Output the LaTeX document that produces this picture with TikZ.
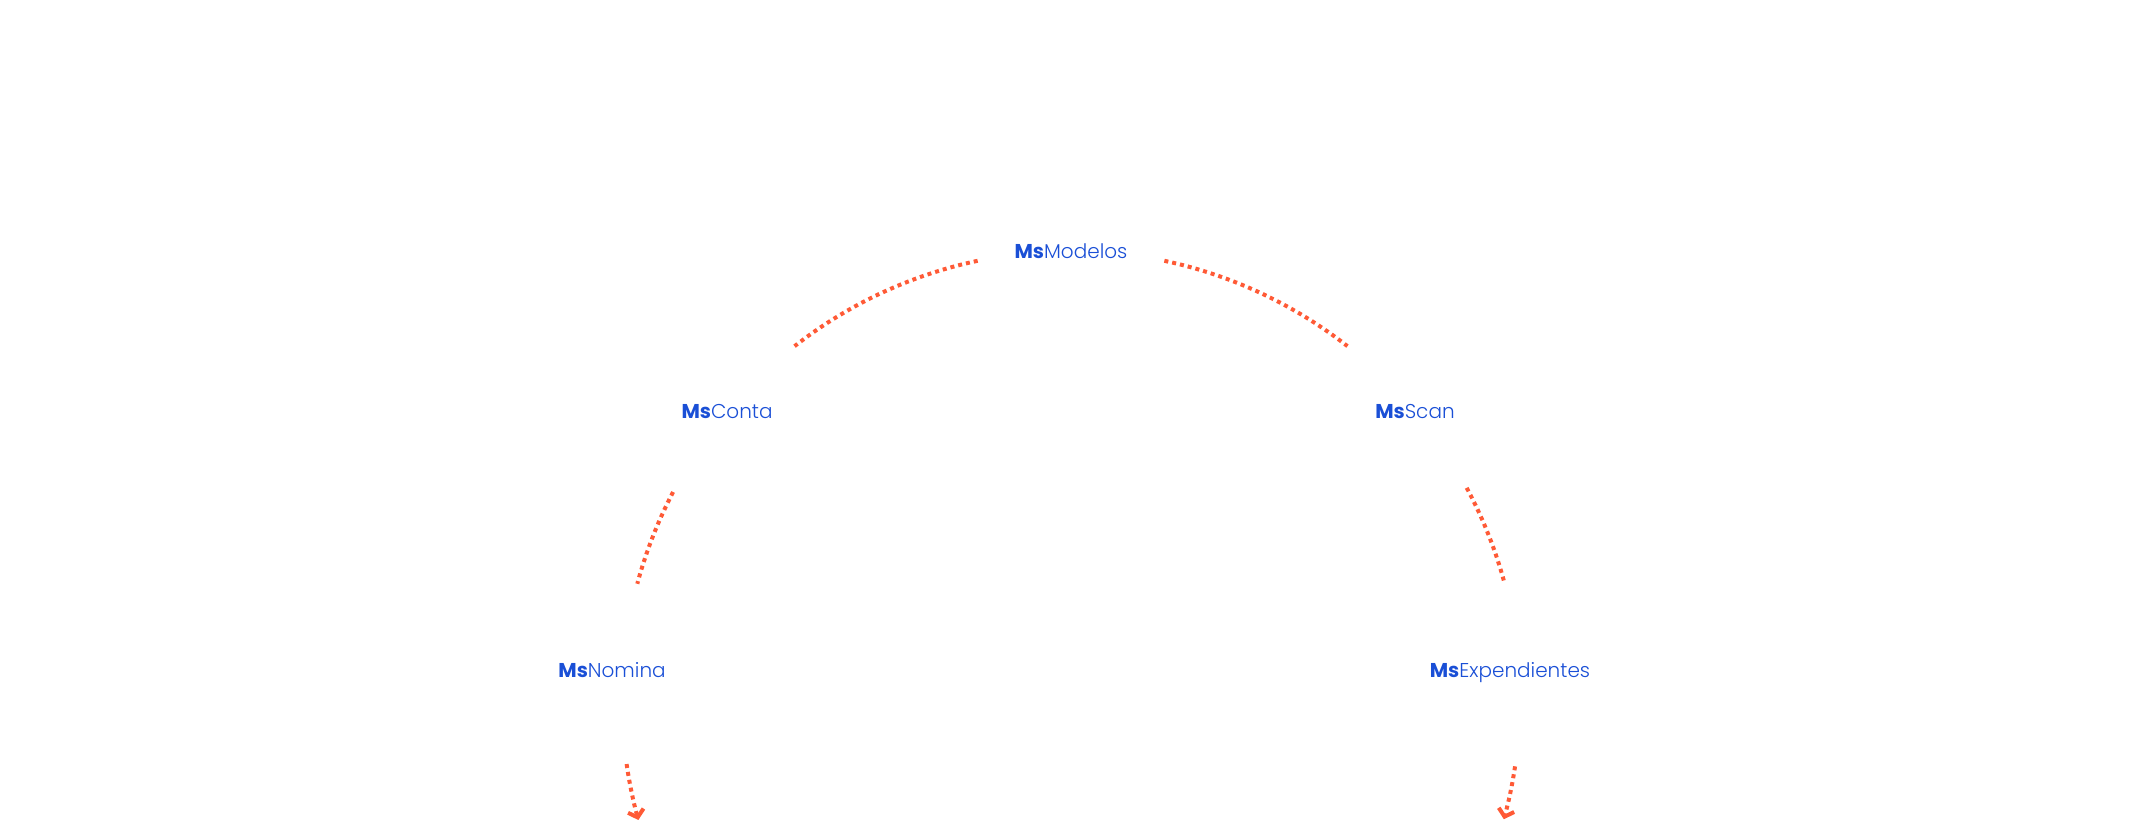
\documentclass[tikz,border=0pt]{standalone}
\usepackage{fontspec}
\setmainfont{Poppins Light}[BoldFont={Poppins Bold}]
\usepackage{tikz}
\usetikzlibrary{arrows.meta,calc}
\definecolor{msblue}{HTML}{1A4FD6}
\definecolor{msorange}{HTML}{FF5A36}
\newcommand{\msname}[1]{\textbf{Ms}#1}

\begin{document}
\begin{tikzpicture}[x=1pt,y=1pt,
  msnode/.style={text=msblue,font=\fontsize{20}{24}\selectfont,inner sep=0pt,text height=15pt,text depth=0pt},
  dotarc/.style={draw=msorange,line width=4pt,dash pattern=on 4pt off 4pt},
  dotarrow/.style={dotarc,-{Straight Barb[length=7pt,width=16pt,line width=4pt]}}]
\useasboundingbox (0,0) rectangle (2146,840);
\coordinate (H) at (1071,140);
\node[msnode] (modelos) at ($(H)+(90:449)$) {\msname{Modelos}};
\node[msnode] (conta) at ($(H)+(140:449)$) {\msname{Conta}};
\node[msnode] (scan) at ($(H)+(40:449)$) {\msname{Scan}};
\node[msnode] (nomina) at ($(H)+(176.2:460)$) {\msname{Nomina}};
\node[msnode] (expendientes) at ($(H)+(3.85:440)$) {\msname{Expendientes}};
\draw[dotarc] ($(H)+(102:449)$) arc (102:128:449);
\draw[dotarc] ($(H)+(78:449)$) arc (78:52:449);
\draw[dotarc] ($(H)+(152.4:449)$) arc (152.4:165:449);
\draw[dotarc] ($(H)+(28.2:449)$) arc (28.2:15.2:449);
\draw[dotarrow] ($(H)+(188.2:449)$) arc (188.2:195.5:449);
\draw[dotarrow] ($(H)+(-8.5:449)$) arc (-8.5:-15.4:449);
\end{tikzpicture}
\end{document}
